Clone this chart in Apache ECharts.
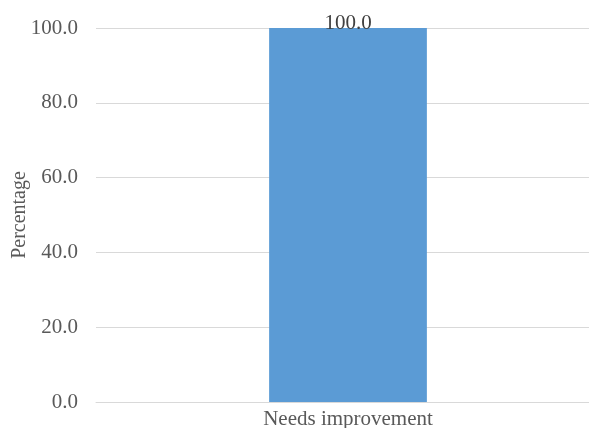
<!DOCTYPE html>
<html>
<head>
<meta charset="utf-8">
<script src="https://cdn.jsdelivr.net/npm/echarts@6/dist/echarts.min.js"></script>
<style>html,body{margin:0;padding:0;background:#fff}#c{width:589px;height:428px}</style>
</head>
<body>
<div id="c"></div>
<script>
var categories = ['Needs improvement'];
var values = [100.0];
var yTicks = [0, 20, 40, 60, 80, 100];

var font = '"Liberation Serif", "Times New Roman", serif';
var chart = echarts.init(document.getElementById('c'));
chart.setOption({
  animation: false,
  grid: { left: 96, right: -11, top: 28, bottom: 26, containLabel: false, outerBoundsMode: 'none' },
  xAxis: {
    type: 'category',
    data: categories,
    axisLine: { lineStyle: { color: '#d9d9d9', width: 1 } },
    axisTick: { show: false },
    axisLabel: { color: '#595959', fontFamily: font, fontSize: 21, margin: 7 }
  },
  yAxis: {
    type: 'value',
    min: yTicks[0],
    max: yTicks[yTicks.length - 1],
    interval: 20,
    name: 'Percentage',
    nameLocation: 'middle',
    nameGap: 66,
    nameMoveOverlap: false,
    nameTextStyle: { color: '#595959', fontFamily: font, fontSize: 20 },
    axisLine: { show: false },
    axisTick: { show: false },
    splitLine: { lineStyle: { color: '#d9d9d9', width: 1 } },
    axisLabel: {
      color: '#595959', fontFamily: font, fontSize: 21, margin: 18,
      formatter: function (v) { return v.toFixed(1); }
    }
  },
  series: [{
    type: 'bar',
    data: values,
    barWidth: '31.3%',
    itemStyle: { color: '#5b9bd5' },
    label: {
      show: true, position: 'top', distance: -6,
      color: '#404040', fontFamily: font, fontSize: 21,
      formatter: function (p) { return p.value.toFixed(1); }
    }
  }]
});
</script>
</body>
</html>
